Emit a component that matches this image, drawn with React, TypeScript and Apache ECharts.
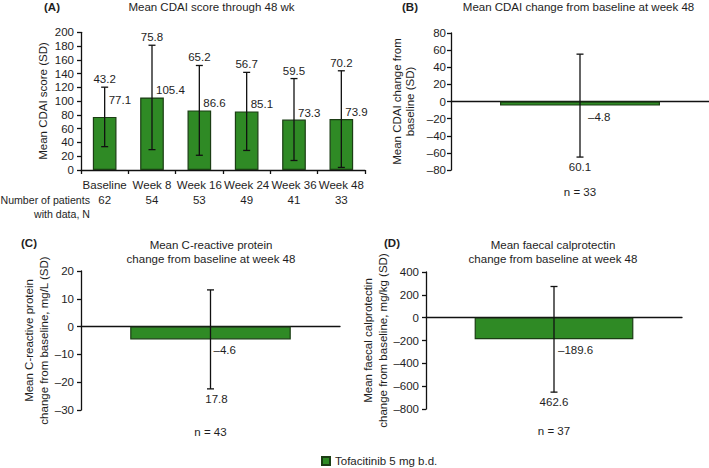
import React, { useEffect, useRef } from 'react';
import * as echarts from 'echarts';

// ---------- data ----------
const cdaiWeeks = ['Baseline', 'Week 8', 'Week 16', 'Week 24', 'Week 36', 'Week 48'];
const cdaiMean = [77.1, 105.4, 86.6, 85.1, 73.3, 73.9];
const cdaiSD = [43.2, 75.8, 65.2, 56.7, 59.5, 70.2];
const cdaiN = [62, 54, 53, 49, 41, 33];

const cdaiChangeMean = [-4.8];
const cdaiChangeSD = [60.1];
const cdaiChangeN = [33];

const crpChangeMean = [-4.6];
const crpChangeSD = [17.8];
const crpChangeN = [43];

const fcpChangeMean = [-189.6];
const fcpChangeSD = [462.6];
const fcpChangeN = [37];

const seriesName = 'Tofacitinib 5 mg b.d.';

// ---------- styles ----------
const FONT = '"Liberation Sans", Arial, Helvetica, sans-serif';
const FS = 11.5;
const TXT = '#1e1e1e';
const BAR_FILL = '#2f8a25';
const BAR_BORDER = '#1b3d14';
const meanLabelLift = [17, 7, 7, 7, 7, 7];

const fmt = (v: number) => {
  const s = String(Math.round(v * 10) / 10);
  return s.replace('-', '\u2013');
};

const txt = (x: number, y: number, text: string, align: string, extra: any = {}) => ({
  type: 'text',
  x,
  y,
  style: {
    text,
    align,
    verticalAlign: 'middle',
    fontSize: FS,
    fontFamily: FONT,
    fill: TXT,
    ...extra,
  },
});

function errorSeries(
  xIdx: number,
  yIdx: number,
  mean: number[],
  sd: number[],
  mode: 'up' | 'down',
  meanDx: number,
  sdDx: number
) {
  return {
    type: 'custom',
    xAxisIndex: xIdx,
    yAxisIndex: yIdx,
    z: 5,
    silent: true,
    data: mean.map((m, i) => [i, m, sd[i]]),
    renderItem: (params: any, api: any) => {
      const i = api.value(0);
      const m = api.value(1);
      const s = api.value(2);
      const top = api.coord([i, m + s]);
      const bot = api.coord([i, m - s]);
      const mid = api.coord([i, m]);
      const cap = 3.5;
      const ln = (x1: number, y1: number, x2: number, y2: number) => ({
        type: 'line',
        shape: { x1, y1, x2, y2 },
        style: { stroke: '#111', lineWidth: 1.3 },
      });
      const children: any[] = [
        ln(top[0], top[1], bot[0], bot[1]),
        ln(top[0] - cap, top[1], top[0] + cap, top[1]),
        ln(bot[0] - cap, bot[1], bot[0] + cap, bot[1]),
      ];
      if (mode === 'up') {
        children.push(txt(top[0] + sdDx, top[1] - 8, fmt(s), 'center'));
        children.push(txt(mid[0] + meanDx, mid[1] - meanLabelLift[params.dataIndex], fmt(m), 'left'));
      } else {
        children.push(txt(mid[0] + meanDx, mid[1] + 11, fmt(m), 'left'));
        children.push(txt(bot[0] + sdDx, bot[1] + 10, fmt(s), 'center'));
      }
      return { type: 'group', children };
    },
  };
}

function barSeries(xIdx: number, yIdx: number, data: number[], width: string) {
  return {
    name: seriesName,
    type: 'bar',
    xAxisIndex: xIdx,
    yAxisIndex: yIdx,
    data,
    barWidth: width,
    z: 2,
    itemStyle: { color: BAR_FILL, borderColor: BAR_BORDER, borderWidth: 1.2 },
  };
}

const axisLineStyle = { color: '#111', width: 1.3 };

function yAxis(grid: number, min: number, max: number, interval: number, margin: number) {
  return {
    type: 'value',
    gridIndex: grid,
    min,
    max,
    interval,
    splitLine: { show: false },
    axisLine: { show: true, onZero: false, lineStyle: axisLineStyle },
    axisTick: { show: true, length: 4, lineStyle: axisLineStyle },
    axisLabel: {
      margin,
      fontSize: FS,
      fontFamily: FONT,
      color: TXT,
      formatter: (v: number) => fmt(v),
    },
  };
}

function changeXAxes(grid: number, n: number[]) {
  return [
    {
      type: 'category',
      gridIndex: grid,
      data: n.map(() => ''),
      position: 'bottom',
      axisLine: { show: true, onZero: true, lineStyle: axisLineStyle },
      axisTick: { show: false },
      axisLabel: { show: false },
    },
    {
      type: 'category',
      gridIndex: grid,
      data: n.map((v) => `n = ${v}`),
      position: 'bottom',
      axisLine: { show: false, onZero: false },
      axisTick: { show: false },
      axisLabel: { margin: 16, fontSize: FS, fontFamily: FONT, color: TXT },
    },
  ];
}

const rotName = (x: number, y: number, text: string, lh: number) => ({
  type: 'text',
  x,
  y,
  rotation: Math.PI / 2,
  style: {
    text,
    align: 'center',
    verticalAlign: 'middle',
    lineHeight: lh,
    fontSize: FS,
    fontFamily: FONT,
    fill: TXT,
  },
});

export default function App() {
  const ref = useRef<HTMLDivElement>(null);

  useEffect(() => {
    if (!ref.current) return;
    const chart = echarts.init(ref.current, null, { renderer: 'svg' });

    const option: any = {
      animation: false,
      backgroundColor: '#ffffff',
      textStyle: { fontFamily: FONT },
      grid: [
        { left: 81, top: 32.3, width: 284, height: 137.7 },
        { left: 451, top: 33, width: 258, height: 137 },
        { left: 81, top: 271, width: 259, height: 139 },
        { left: 426, top: 272, width: 256, height: 137 },
      ],
      xAxis: [
        {
          type: 'category',
          gridIndex: 0,
          data: cdaiWeeks,
          position: 'bottom',
          axisLine: { show: true, onZero: false, lineStyle: axisLineStyle },
          axisTick: { show: true, length: 4, lineStyle: axisLineStyle },
          axisLabel: { margin: 9, fontSize: FS, fontFamily: FONT, color: TXT, interval: 0 },
        },
        {
          type: 'category',
          gridIndex: 0,
          data: cdaiN.map(String),
          position: 'bottom',
          axisLine: { show: false, onZero: false },
          axisTick: { show: false },
          axisLabel: { margin: 24, fontSize: FS, fontFamily: FONT, color: TXT, interval: 0 },
        },
        ...changeXAxes(1, cdaiChangeN),
        ...changeXAxes(2, crpChangeN),
        ...changeXAxes(3, fcpChangeN),
      ],
      yAxis: [
        yAxis(0, 0, 200, 20, 7),
        yAxis(1, -80, 80, 20, 5),
        yAxis(2, -30, 20, 10, 7),
        yAxis(3, -800, 400, 200, 7),
      ],
      legend: {
        left: 321,
        top: 455,
        icon: 'rect',
        itemWidth: 8,
        itemHeight: 8,
        itemGap: 10,
        data: [seriesName],
        selectedMode: false,
        textStyle: { fontSize: FS, fontFamily: FONT, color: TXT, padding: [0, 0, 0, 0] },
        padding: 0,
      },
      series: [
        barSeries(0, 0, cdaiMean, '50%'),
        errorSeries(0, 0, cdaiMean, cdaiSD, 'up', 4, 0),
        barSeries(2, 1, cdaiChangeMean, '62%'),
        errorSeries(2, 1, cdaiChangeMean, cdaiChangeSD, 'down', 8, 0),
        barSeries(4, 2, crpChangeMean, '62%'),
        errorSeries(4, 2, crpChangeMean, crpChangeSD, 'down', 3, 6),
        barSeries(6, 3, fcpChangeMean, '62%'),
        errorSeries(6, 3, fcpChangeMean, fcpChangeSD, 'down', 4, 0),
      ],
      graphic: [
        // panel letters
        txt(52, 7, '(A)', 'center', { fontWeight: 'bold' }),
        txt(410, 7, '(B)', 'center', { fontWeight: 'bold' }),
        txt(29, 243, '(C)', 'center', { fontWeight: 'bold' }),
        txt(392, 243, '(D)', 'center', { fontWeight: 'bold' }),
        // titles
        txt(211.5, 7, 'Mean CDAI score through 48 wk', 'center'),
        txt(578.5, 7, 'Mean CDAI change from baseline at week 48', 'center'),
        txt(211, 245, 'Mean C-reactive protein', 'center'),
        txt(211, 259, 'change from baseline at week 48', 'center'),
        txt(553, 245, 'Mean faecal calprotectin', 'center'),
        txt(553, 259, 'change from baseline at week 48', 'center'),
        // y axis names
        rotName(43, 101, 'Mean CDAI score (SD)', 14),
        rotName(403.5, 101.5, 'Mean CDAI change from\nbaseline (SD)', 13.5),
        rotName(36, 340.5, 'Mean C-reactive protein\nchange from baseline, mg/L (SD)', 15),
        rotName(375.5, 340.5, 'Mean faecal calprotectin\nchange from baseline, mg/kg (SD)', 15),
        // N row label
        txt(90, 200, 'Number of patients', 'right', { fontSize: 10.6 }),
        txt(90, 213.5, 'with data, N', 'right', { fontSize: 10.6 }),
      ],
    };

    chart.setOption(option);
    return () => chart.dispose();
  }, []);

  return (
    <div
      ref={ref}
      style={{ position: 'absolute', left: 0, top: 0, width: 709, height: 468, background: '#fff' }}
    />
  );
}
